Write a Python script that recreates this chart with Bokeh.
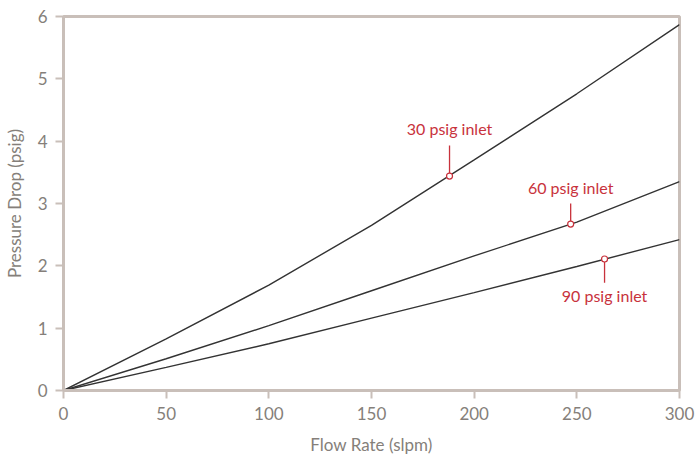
from bokeh.plotting import figure
from bokeh.models import Range1d, FixedTicker
from bokeh.core.properties import value
from bokeh.embed import file_html
from bokeh.resources import INLINE

flow = [0, 50, 100, 150, 200, 250, 300]
p30 = [0, 0.83, 1.69, 2.65, 3.70, 4.76, 5.87]
p60 = [0, 0.51, 1.04, 1.60, 2.16, 2.70, 3.35]
p90 = [0, 0.37, 0.75, 1.16, 1.57, 1.99, 2.42]

labels = ["30 psig inlet", "60 psig inlet", "90 psig inlet"]
mark_x = [188, 247, 263.5]
mark_y = [3.44, 2.67, 2.11]
lead_y = [3.93, 3.0, 1.73]
text_y = [4.2, 3.26, 1.52]

x_ticks = [0, 50, 100, 150, 200, 250, 300]
y_ticks = [0, 1, 2, 3, 4, 5, 6]

FRAME = "#c9bfb9"
TICKTXT = "#857f7a"
RED = "#c8323c"
FONT = "Lato"

p = figure(width=695, height=457, output_backend="svg", toolbar_location=None,
           x_range=Range1d(0, 300), y_range=Range1d(0, 6),
           min_border_left=62, min_border_right=16, min_border_top=16, min_border_bottom=67)
p.grid.visible = False
p.outline_line_color = FRAME
p.outline_line_width = 3
p.background_fill_color = "white"

for ax in (p.xaxis[0], p.yaxis[0]):
    ax.axis_line_color = FRAME
    ax.axis_line_width = 3
    ax.major_tick_line_color = FRAME
    ax.major_tick_line_width = 2
    ax.major_tick_in = 0
    ax.major_tick_out = 8
    ax.minor_tick_line_color = None
    ax.major_label_text_color = TICKTXT
    ax.major_label_text_font = FONT
    ax.major_label_text_font_size = "17px"
    ax.axis_label_text_color = TICKTXT
    ax.axis_label_text_font = FONT
    ax.axis_label_text_font_size = "17px"
    ax.axis_label_text_font_style = "normal"

p.xaxis.ticker = FixedTicker(ticks=x_ticks)
p.yaxis.ticker = FixedTicker(ticks=y_ticks)
p.xaxis.axis_label = "Flow Rate (slpm)"
p.yaxis.axis_label = "Pressure Drop (psig)"
p.xaxis.major_label_standoff = 8
p.xaxis.axis_label_standoff = 11
p.yaxis.major_label_standoff = 8
p.yaxis.axis_label_standoff = 10

for ys in (p30, p60, p90):
    p.line(flow, ys, line_color="#333333", line_width=1.4)

for i in range(3):
    p.segment(x0=[mark_x[i]], y0=[mark_y[i]], x1=[mark_x[i]], y1=[lead_y[i]],
              line_color=RED, line_width=1.3)

p.scatter(mark_x, mark_y, size=6, fill_color="white", line_color=RED, line_width=1.2)

p.text(x=mark_x, y=text_y, text=labels, text_color=RED, text_font=value(FONT),
       text_font_size="16px", text_align="center", text_baseline="middle")

open("out.html", "w").write(file_html(p, INLINE))
